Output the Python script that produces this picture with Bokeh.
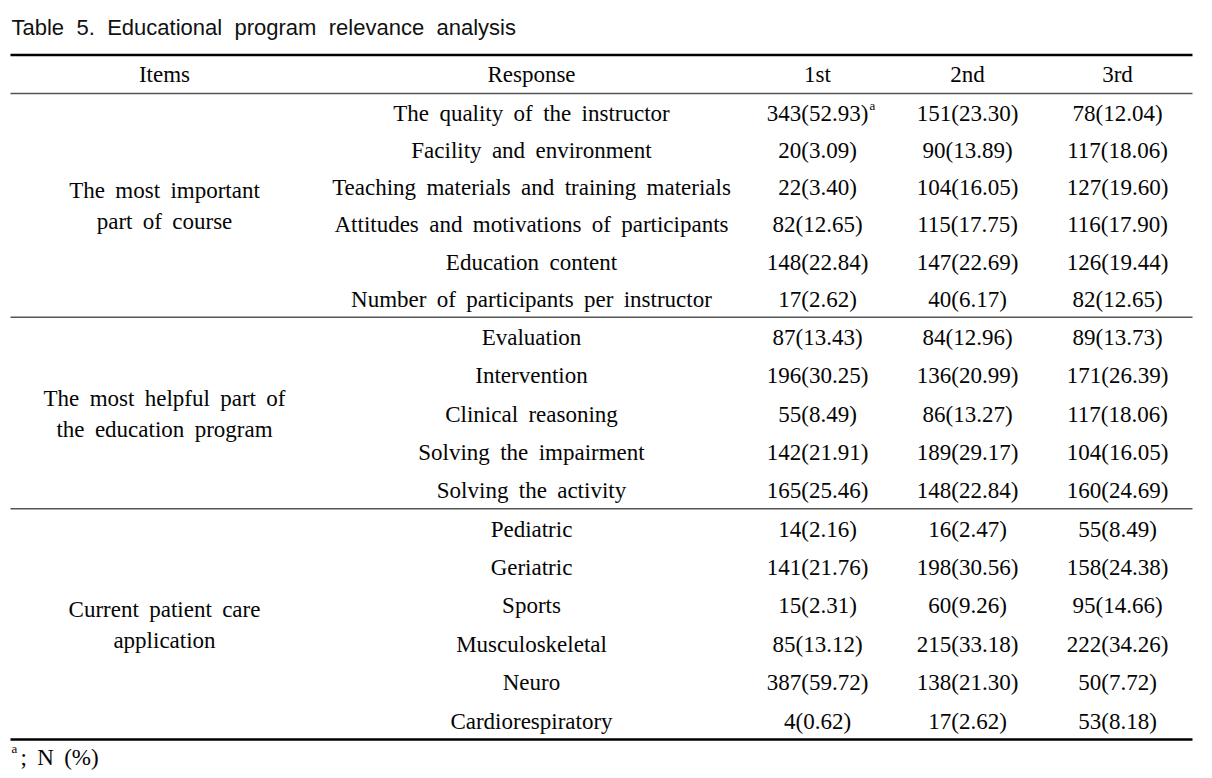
from bokeh.plotting import figure
from bokeh.models import Range1d, ColumnDataSource
from bokeh.core.properties import value
from bokeh.embed import file_html
from bokeh.resources import INLINE

title = "Table 5. Educational program relevance analysis"
headers = ["Items", "Response", "1st", "2nd", "3rd"]

groups = [
    ["The most important", "part of course"],
    ["The most helpful part of", "the education program"],
    ["Current patient care", "application"],
]
group_sizes = [6, 5, 6]

responses = [
    "The quality of the instructor",
    "Facility and environment",
    "Teaching materials and training materials",
    "Attitudes and motivations of participants",
    "Education content",
    "Number of participants per instructor",
    "Evaluation",
    "Intervention",
    "Clinical reasoning",
    "Solving the impairment",
    "Solving the activity",
    "Pediatric",
    "Geriatric",
    "Sports",
    "Musculoskeletal",
    "Neuro",
    "Cardiorespiratory",
]
first = ["343(52.93)", "20(3.09)", "22(3.40)", "82(12.65)", "148(22.84)", "17(2.62)",
         "87(13.43)", "196(30.25)", "55(8.49)", "142(21.91)", "165(25.46)",
         "14(2.16)", "141(21.76)", "15(2.31)", "85(13.12)", "387(59.72)", "4(0.62)"]
second = ["151(23.30)", "90(13.89)", "104(16.05)", "115(17.75)", "147(22.69)", "40(6.17)",
          "84(12.96)", "136(20.99)", "86(13.27)", "189(29.17)", "148(22.84)",
          "16(2.47)", "198(30.56)", "60(9.26)", "215(33.18)", "138(21.30)", "17(2.62)"]
third = ["78(12.04)", "117(18.06)", "127(19.60)", "116(17.90)", "126(19.44)", "82(12.65)",
         "89(13.73)", "171(26.39)", "117(18.06)", "104(16.05)", "160(24.69)",
         "55(8.49)", "158(24.38)", "95(14.66)", "222(34.26)", "50(7.72)", "53(8.18)"]
superscript = "a"
footnote = "; N (%)"


def wide(s, extra=" \u2009"):
    # the source typesetting uses widened word spacing
    return s.replace(" ", extra)


W, H = 1212, 778
p = figure(width=W, height=H, x_range=Range1d(0, W), y_range=Range1d(H, 0),
           output_backend="svg", toolbar_location=None, min_border=0)
p.axis.visible = False
p.grid.visible = False
p.outline_line_color = None
p.background_fill_color = "white"
p.border_fill_color = "white"

serif = value("Liberation Serif")
sans = value("Liberation Sans")
FS = "23px"
TC = "#050505"
col_x = [164, 531, 817, 967, 1117]
x0, x1 = 10, 1192
header_y = 74
rule_y = [93, 316.7, 508.3, 739]

# title
p.text(x=[11], y=[26.5], text=[wide(title, " \u2009\u200a")], text_font=sans,
       text_font_size="22px", text_align="left", text_baseline="alphabetic",
       text_color="#111111")

# rules
p.segment(x0=[x0], y0=[54.5], x1=[x1], y1=[54.5], line_color="black", line_width=2.5)
p.segment(x0=[x0], y0=[rule_y[0]], x1=[x1], y1=[rule_y[0]], line_color="#555555",
          line_width=1.5)
p.segment(x0=[x0], y0=[rule_y[-1]], x1=[x1], y1=[rule_y[-1]], line_color="black",
          line_width=2.5)

# header
p.text(x=col_x, y=[header_y] * 5, text=[wide(h) for h in headers], text_font=serif,
       text_font_size=FS, text_align="center", text_baseline="middle", text_color=TC)

# row positions by group
ys = []
for gi, n in enumerate(group_sizes):
    top, bot = rule_y[gi], rule_y[gi + 1]
    h = (bot - top) / n
    ys += [top + (i + 0.5) * h + 1 for i in range(n)]
    mid = (top + bot) / 2
    p.text(x=[col_x[0]] * 2, y=[mid - 15, mid + 16], text=[wide(t) for t in groups[gi]],
           text_font=serif, text_font_size=FS, text_align="center",
           text_baseline="middle", text_color=TC)
    if gi + 1 < len(group_sizes):
        p.segment(x0=[x0], y0=[bot], x1=[x1], y1=[bot], line_color="#555555",
                  line_width=1.5)

src = ColumnDataSource(dict(y=ys, r=[wide(r) for r in responses], a=first, b=second, c=third))
for xx, col in zip(col_x[1:], ["r", "a", "b", "c"]):
    p.text(x=xx, y="y", text=col, source=src, text_font=serif, text_font_size=FS,
           text_align="center", text_baseline="middle", text_color=TC)

# superscript a
p.text(x=[869], y=[ys[0] - 8], text=[superscript], text_font=serif, text_font_size="13px",
       text_align="left", text_baseline="middle", text_color=TC)

# footnote
p.text(x=[11], y=[748], text=[superscript], text_font=serif, text_font_size="13px",
       text_align="left", text_baseline="middle", text_color=TC)
p.text(x=[20], y=[757], text=[wide(footnote)], text_font=serif, text_font_size=FS,
       text_align="left", text_baseline="middle", text_color=TC)

open("out.html", "w").write(file_html(p, INLINE))
